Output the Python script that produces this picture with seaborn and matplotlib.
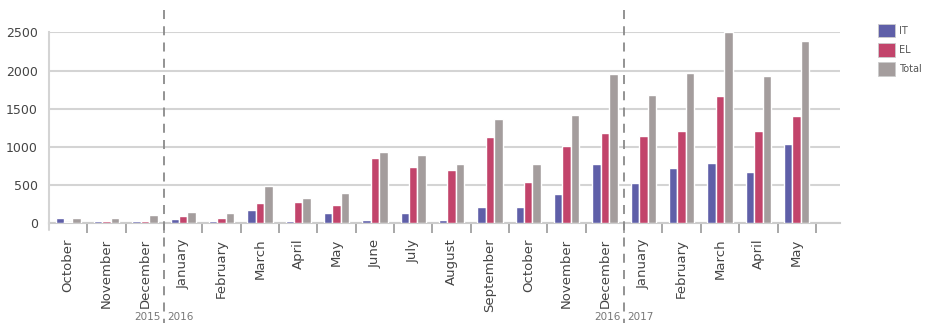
import matplotlib
matplotlib.use("Agg")
import matplotlib.pyplot as plt
import matplotlib.transforms as mtransforms
from matplotlib.patches import Patch
import seaborn as sns
import pandas as pd

months = ["October", "November", "December", "January", "February", "March", "April",
          "May", "June", "July", "August", "September", "October", "November", "December",
          "January", "February", "March", "April", "May"]
periods = ["2015-10", "2015-11", "2015-12", "2016-01", "2016-02", "2016-03", "2016-04",
           "2016-05", "2016-06", "2016-07", "2016-08", "2016-09", "2016-10", "2016-11",
           "2016-12", "2017-01", "2017-02", "2017-03", "2017-04", "2017-05"]
it_values = [65, 30, 30, 52, 30, 170, 30, 139, 47, 139, 47, 209, 209, 384, 772,
             524, 720, 785, 668, 1034]
el_values = [15, 30, 30, 100, 65, 262, 279, 244, 859, 733, 702, 1126, 545, 1016, 1178,
             1143, 1213, 1670, 1213, 1404]
total_values = [65, 65, 110, 152, 135, 492, 327, 401, 929, 894, 772, 1369, 772, 1422, 1950,
                1684, 1967, 2500, 1932, 2391]
series_names = ["IT", "EL", "Total"]
colors = ["#5f5fa8", "#c2446b", "#a49d9d"]
yticks = [0, 500, 1000, 1500, 2000, 2500]
year_marks = [(2.5, "2015", "2016"), (14.5, "2016", "2017")]

rows = []
for p, a, b, c in zip(periods, it_values, el_values, total_values):
    rows.append({"period": p, "series": "IT", "value": a})
    rows.append({"period": p, "series": "EL", "value": b})
    rows.append({"period": p, "series": "Total", "value": c})
df = pd.DataFrame(rows)

sns.set_theme(style="white")
plt.rcParams["font.family"] = ["DejaVu Sans"]

fig = plt.figure(figsize=(9.31, 3.35), dpi=100)
ax = fig.add_axes([49 / 931, 1 - 223.3 / 335, (840 - 49) / 931, (223.3 - 32.3) / 335])

sns.barplot(data=df, x="period", y="value", hue="series", order=periods,
            hue_order=series_names, palette=colors, width=0.66, gap=0,
            saturation=1, ax=ax, legend=False, errorbar=None, zorder=3)

ax.set_xlim(-0.5, 20.13)
ax.set_ylim(0, 2500)
ax.set_yticks(yticks)
ax.set_yticklabels([str(v) for v in yticks], fontsize=9, color="#444444")
ax.yaxis.grid(True, color="#d4d4d4", linewidth=1.5)
ax.set_axisbelow(True)
ax.set_xlabel("")
ax.set_ylabel("")

ax.set_xticks(range(len(periods)))
ax.set_xticklabels(months, rotation=90, fontsize=9.5, color="#444444", va="top")
ax.tick_params(axis="x", which="major", length=0, pad=11)
ax.set_xticks([i + 0.5 for i in range(len(periods))], minor=True)
ax.tick_params(axis="x", which="minor", bottom=True, length=7, width=1.2,
               color="#999999", direction="out")
ax.tick_params(axis="y", length=0, pad=8)

for s in ["top", "right"]:
    ax.spines[s].set_visible(False)
ax.spines["left"].set_color("#d4d4d4")
ax.spines["left"].set_linewidth(1.5)
ax.spines["bottom"].set_color("#cccccc")
ax.spines["bottom"].set_linewidth(1.5)
ax.spines["bottom"].set_zorder(2)

trans = mtransforms.blended_transform_factory(ax.transData, ax.transAxes)
ax.plot([-0.5, -0.5], [0, -0.035], transform=trans, clip_on=False,
        color="#d4d4d4", linewidth=1.5)
for xpos, left_year, right_year in year_marks:
    ax.plot([xpos, xpos], [1.115, -0.52], transform=trans, clip_on=False,
            color="#8a8a8a", linestyle=(0, (5, 4)), linewidth=1.3, zorder=4)
    ax.text(xpos - 0.09, -0.49, left_year, transform=trans, ha="right", va="center",
            fontsize=7.5, color="#777777")
    ax.text(xpos + 0.09, -0.49, right_year, transform=trans, ha="left", va="center",
            fontsize=7.5, color="#777777")

handles = [Patch(facecolor=c, edgecolor="#cccccc", linewidth=0.6) for c in colors]
fig.legend(handles, series_names, loc="upper left", bbox_to_anchor=(874 / 931, 1 - 20 / 335),
           frameon=False, fontsize=7, handlelength=1.75, handleheight=1.75,
           handletextpad=0.4, labelspacing=0.6, borderpad=0.4, borderaxespad=0,
           labelcolor="#555555")

fig.savefig("out.png", dpi=100)
